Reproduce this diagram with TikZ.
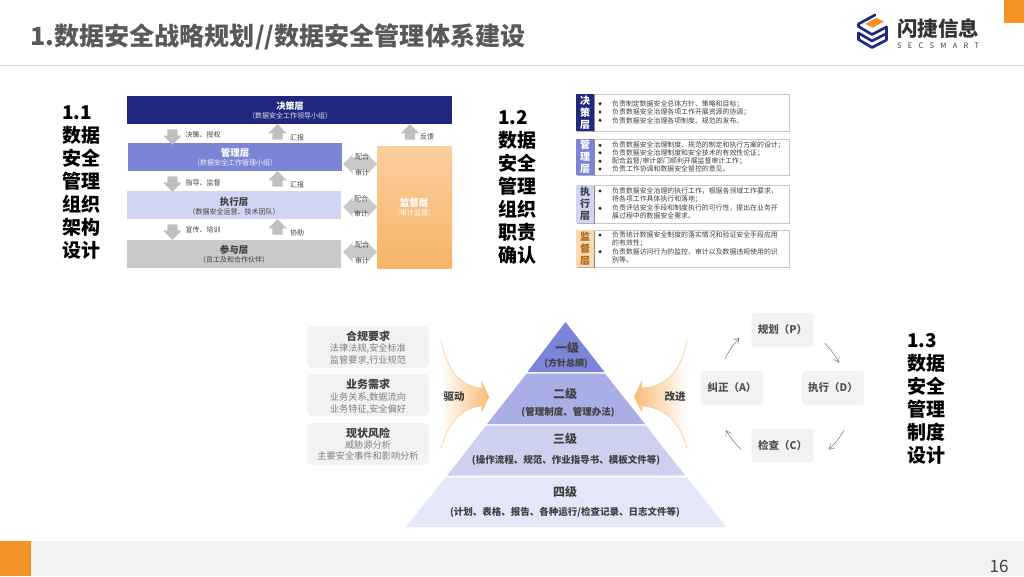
\documentclass[tikz,border=0pt]{standalone}
\usepackage{fontspec}
\setmainfont{Noto Sans CJK SC}
\usetikzlibrary{shapes.arrows,shadows,calc,arrows.meta}
\definecolor{navy}{HTML}{23287F}
\definecolor{midblue}{HTML}{7B84D6}
\definecolor{paleblue}{HTML}{D0D5F3}
\definecolor{laygray}{HTML}{C9C9C9}
\definecolor{arrgray}{HTML}{BFBFBF}
\definecolor{darktxt}{HTML}{404040}
\definecolor{softtxt}{HTML}{7F7F7F}
\definecolor{boxgray}{HTML}{F2F2F2}
\definecolor{brand}{HTML}{F39325}
\definecolor{fadeo}{HTML}{FBCF9E}
\definecolor{fadeoo}{HTML}{F6962F}
\definecolor{edgeo}{HTML}{F6CFA3}
\pgfdeclarehorizontalshading{fadeR}{100bp}{color(0bp)=(white);color(25bp)=(white);color(60bp)=(fadeo);color(100bp)=(fadeoo)}
\newcommand{\fs}[1]{\fontsize{#1}{#1}\selectfont}
\newcommand{\sq}[1]{\hbox to #1pt{\vrule height #1pt width 0pt\hfil}}
\tikzset{
  layerbox/.style={minimum width=214pt,minimum height=28pt,inner sep=0pt,align=center},
  upa/.style={single arrow,draw=none,fill=arrgray,shape border rotate=90,minimum height=15pt,single arrow head extend=4pt,inner sep=0pt,anchor=center},
  dna/.style={upa,shape border rotate=270},
  dbl/.style={double arrow,draw=none,fill=laygray,minimum height=34pt,double arrow head extend=3.5pt,inner sep=0pt},
  flow/.style={font=\fs{7},text=darktxt,inner sep=0pt},
  heading/.style={anchor=north west,align=left,inner sep=0pt,text=black,font=\fontsize{19}{23}\selectfont\bfseries},
  respbox/.style={draw=black!22,fill=white,line width=.7pt,minimum width=195pt,inner sep=0pt,drop shadow={shadow xshift=.8pt,shadow yshift=-.8pt,opacity=.25,fill=black}},
  resptab/.style={minimum width=18pt,inner sep=0pt,align=center,font=\fontsize{10}{12}\selectfont\bfseries,drop shadow={shadow xshift=.8pt,shadow yshift=-.8pt,opacity=.3,fill=black}},
  resptxt/.style={anchor=north west,inner sep=0pt,text=darktxt,font=\fontsize{6.9}{8.3}\selectfont},
  softbox/.style={fill=boxgray,rounded corners=5pt,inner sep=0pt,minimum width=122pt,minimum height=42pt},
  pdca/.style={fill=boxgray,rounded corners=3pt,inner sep=0pt,minimum width=62pt,minimum height=34pt,text=darktxt!90,font=\fs{10.5}\bfseries},
  cyc/.style={-{Straight Barb[length=5pt,width=6pt]},draw=black!55,line width=.5pt},
  pyrt/.style={inner sep=0pt,text=darktxt,font=\fs{12}\bfseries},
  pyrs/.style={inner sep=0pt,text=darktxt,font=\fs{9.5}\bfseries},
  edgeline/.style={draw=edgeo,line width=.7pt},
  logoline/.style={navy,line width=2.7pt,line join=round,line cap=round}
}
\begin{document}
\begin{tikzpicture}[x=1pt,y=-1pt]
\useasboundingbox (0,0) rectangle (1024,576);
% header & footer
\fill[brand] (1004,0) rectangle (1024,23);
\draw[black!15,line width=.8pt] (0,65) -- (1024,65);
\fill[boxgray] (0,541) rectangle (1024,576);
\fill[brand] (0,541) rectangle (31,576);
\node[anchor=west,inner sep=0pt,text=black!65,font=\fs{25.1}\bfseries] (title) at (30,37) {1.数据安全战略规划//数据安全管理体系建设};
\node[inner sep=0pt,text=darktxt,font=\fs{17}] (pageno) at (999,566) {16};
% logo
\fill[brand] (865,24) -- (876,18) -- (884,21.5) -- (873,27.5) -- cycle;
\draw[logoline] (875,15) -- (858.5,24) -- (858.5,26.5) -- (872,34.5) -- (886.5,27);
\draw[logoline] (858.5,33) -- (872,41) -- (886.5,33.5) -- (886.5,27);
\draw[logoline] (858.5,33) -- (858.5,39.5) -- (872,47.5) -- (886.5,40) -- (886.5,33.5);
\node[anchor=west,inner sep=0pt,text=black!80,font=\fs{20.5}\bfseries] (logotxt) at (897,29) {闪捷信息};
\node[anchor=west,inner sep=0pt,text=darktxt,font=\fs{7.5}] (logosub) at (897,46) {\makebox[82pt][s]{S\hfil E\hfil C\hfil S\hfil M\hfil A\hfil R\hfil T}};
% headings
\node[heading] (h1) at (62,106) {1.1\\数据\\安全\\管理\\组织\\架构\\设计};
\node[heading] (h2) at (498,110.5) {1.2\\数据\\安全\\管理\\组织\\职责\\确认};
\node[heading] (h3) at (907,333.5) {1.3\\数据\\安全\\管理\\制度\\设计};
% 1.1 layers
\node[layerbox,fill=navy,minimum width=325pt,text=white] (l1) at (289.5,110.3) {};
\node[layerbox,fill=midblue] (l2) at (235,157) {};
\node[layerbox,fill=paleblue] (l3) at (234,205) {};
\node[layerbox,fill=laygray] (l4) at (234,254) {};
\node[inner sep=0pt,minimum width=75pt,minimum height=122pt,top color=fadeo,bottom color=brand!70,shading angle=0] (l5) at (414.5,207) {};
\node[inner sep=0pt,text=white,font=\fs{9}\bfseries] (l1a) at (290,106) {决策层};
\node[inner sep=0pt,text=white!85!navy,font=\fs{7}] (l1b) at (290,116) {（数据安全工作领导小组）};
\node[inner sep=0pt,text=white,font=\fs{9.5}\bfseries] (l2a) at (235,153) {管理层};
\node[inner sep=0pt,text=white!90!midblue,font=\fs{7}] (l2b) at (235,163) {（数据安全工作管理小组）};
\node[inner sep=0pt,text=darktxt,font=\fs{9.5}\bfseries] (l3a) at (234,202) {执行层};
\node[inner sep=0pt,text=darktxt,font=\fs{7}] (l3b) at (234,212) {（数据安全运营、技术团队）};
\node[inner sep=0pt,text=darktxt,font=\fs{9.5}\bfseries] (l4a) at (234,250) {参与层};
\node[inner sep=0pt,text=darktxt,font=\fs{7}] (l4b) at (234,260) {（员工及和合作伙伴）};
\node[inner sep=0pt,text=white,font=\fs{9.5}\bfseries] (l5a) at (414,203) {监督层};
\node[inner sep=0pt,text=white,font=\fs{7}] (l5b) at (414,213) {（审计监督）};
% 1.1 block arrows
\node[dna] (d1) at (172.5,134.5) {\sq{10}}; \node[upa] (u1) at (277.5,134.5) {\sq{10}}; \node[upa] (u0) at (410,134.5) {\sq{10}};
\node[dna] (d2) at (172.5,181.5) {\sq{10}}; \node[upa] (u2) at (277.5,181.5) {\sq{10}};
\node[dna] (d3) at (172.5,229.5) {\sq{10}}; \node[upa] (u3) at (277.5,229.5) {\sq{10}};
\node[dbl] (x1) at (360,164) {\sq{12}}; \node[dbl] (x2) at (360,207) {\sq{12}}; \node[dbl] (x3) at (360,252) {\sq{12}};
\node[flow] (t1) at (203,135) {决策、授权};
\node[flow] (t2) at (297,138) {汇报};
\node[flow] (t3) at (427,137) {反馈};
\node[flow] (t4) at (203,183) {指导、监督};
\node[flow] (t5) at (297,185) {汇报};
\node[flow] (t6) at (203,230) {宣传、培训};
\node[flow] (t7) at (297,233) {协助};
\node[flow] (c1) at (362,157) {配合}; \node[flow] (a1) at (362,173) {审计};
\node[flow] (c2) at (361,199) {配合}; \node[flow] (a2) at (361,214) {审计};
\node[flow] (c3) at (362,245) {配合}; \node[flow] (a3) at (362,261) {审计};
% 1.2 boxes
\node[respbox,minimum height=37pt] (b1) at (691.5,112.5) {};
\node[respbox,minimum height=36pt] (b2) at (691.5,157) {};
\node[respbox,minimum height=38pt] (b3) at (691.5,204) {};
\node[respbox,minimum height=37pt] (b4) at (691.5,248.5) {};
\node[resptab,fill=navy,text=white,minimum height=37pt] (tb1) at (585,112.5) {决\\策\\层};
\node[resptab,fill=midblue,text=white,minimum height=36pt] (tb2) at (585,157) {管\\理\\层};
\node[resptab,fill=paleblue,text=darktxt,minimum height=38pt] (tb3) at (585,204) {执\\行\\层};
\node[resptab,fill=brand!35,text=brand!70!black,minimum height=37pt] (tb4) at (585,248.5) {监\\督\\层};
\node[resptxt,align=left] (tx1) at (612,100.5) {负责制定数据安全总体方针、策略和目标；\\负责数据安全治理各项工作开展资源的协调；\\负责数据安全治理各项制度、规范的发布。};
\node[resptxt,align=left] (tx2) at (612,141) {负责数据安全治理制度、规范的制定和执行方案的设计；\\负责数据安全治理制度和安全技术的有效性论证；\\配合监督/审计部门顺利开展监督审计工作；\\负责工作协调和数据安全管控的意见。};
\node[resptxt,align=left] (tx3) at (612,187.5) {负责数据安全治理的执行工作，根据各领域工作要求，\\将各项工作具体执行和落地；\\负责评估安全手段和制度执行的可行性，提出在业务开\\展过程中的数据安全需求。};
\node[resptxt,align=left] (tx4) at (612,231.5) {负责统计数据安全制度的落实情况和验证安全手段应用\\的有效性；\\负责数据访问行为的监控、审计以及数据违规使用的识\\别等。};
\foreach \by in {103.7,112,120.3,145.3,152.8,161.3,169,191,208.3,235,251.7}
  \fill[black!85] (600,\by) circle[radius=1.7pt];
% 1.3 requirements
\node[softbox] (r1) at (368,347) {};
\node[softbox] (r2) at (368,395) {};
\node[softbox] (r3) at (368,444) {};
\node[inner sep=0pt,text=darktxt,font=\fs{11}\bfseries] (r1a) at (368,336) {合规要求};
\node[inner sep=0pt,text=softtxt,font=\fontsize{9.2}{11.2}\selectfont,align=center] (r1b) at (368,354.5) {法律法规,安全标准\\监管要求,行业规范};
\node[inner sep=0pt,text=darktxt,font=\fs{11}\bfseries] (r2a) at (368,384.5) {业务需求};
\node[inner sep=0pt,text=softtxt,font=\fontsize{9.2}{11.2}\selectfont,align=center] (r2b) at (368,403.5) {业务关系,数据流向\\业务特征,安全偏好};
\node[inner sep=0pt,text=darktxt,font=\fs{11}\bfseries] (r3a) at (368,433) {现状风险};
\node[inner sep=0pt,text=softtxt,font=\fontsize{9.2}{11.2}\selectfont,align=center] (r3b) at (368,450.5) {威胁源分析\\主要安全事件和影响分析};
% pyramid
\fill[midblue] (565.5,322) -- (604.5,372) -- (527.5,372) -- cycle;
\fill[midblue!65!white] (526.5,373.7) -- (605,373.7) -- (645,424) -- (487,424) -- cycle;
\fill[midblue!38!white] (486,425.7) -- (646,425.7) -- (685.5,475.7) -- (447,475.7) -- cycle;
\fill[midblue!20!white] (445.5,477.3) -- (687,477.3) -- (726,527) -- (406,527) -- cycle;
\node[pyrt] (p1a) at (567,348) {一级};
\node[pyrs,font=\fs{9}\bfseries] (p1b) at (566,363) {(方针总纲)};
\node[pyrt] (p2a) at (565,394) {二级};
\node[pyrs] (p2b) at (568,412) {(管理制度、管理办法)};
\node[pyrt] (p3a) at (565,439) {三级};
\node[pyrs] (p3b) at (566,460) {(操作流程、规范、作业指导书、模板文件等)};
\node[pyrt] (p4a) at (565,492) {四级};
\node[pyrs] (p4b) at (565,512) {(计划、表格、报告、各种运行/检查记录、日志文件等)};
% big gradient arrows
\shade[shading=fadeR] (441,340) .. controls (447,368) and (458,386) .. (481.7,388) -- (481.7,380) -- (489,397) -- (481.7,413) -- (481.7,406) .. controls (458,408) and (447,428) .. (441,448) -- cycle;
\draw[edgeline] (441,340) .. controls (447,368) and (458,386) .. (481.7,388);
\draw[edgeline] (441,448) .. controls (447,428) and (458,408) .. (481.7,406);
\shade[shading=fadeR,shading angle=180] (687,340) .. controls (681,368) and (670,386) .. (642,388) -- (642,380) -- (634,397) -- (642,413) -- (642,406) .. controls (670,408) and (681,428) .. (687,448) -- cycle;
\draw[edgeline] (687,340) .. controls (681,368) and (670,386) .. (642,388);
\draw[edgeline] (687,448) .. controls (681,428) and (670,408) .. (642,406);
\node[inner sep=0pt,text=darktxt,font=\fs{10.5}\bfseries] (drv) at (454,397) {驱动};
\node[inner sep=0pt,text=darktxt,font=\fs{10.5}\bfseries] (imp) at (675,397) {改进};
% PDCA
\node[pdca] (pp) at (782.5,330) {规划（P）};
\node[pdca] (pd) at (833,388) {执行（D）};
\node[pdca] (pa) at (732,388) {纠正（A）};
\node[pdca] (pc) at (782.5,445.5) {检查（C）};
\draw[cyc] ([shift={(11,-4)}]pp.south east) to[bend left=8] ([shift={(6,-8)}]pd.north);
\draw[cyc] ([shift={(11,25)}]pd.south) to[bend left=8] ([shift={(15,4)}]pc.east);
\draw[cyc] ([shift={(-10,4)}]pc.west) to[bend left=8] ([shift={(-6,25)}]pa.south);
\draw[cyc] ([shift={(-7,-12)}]pa.north) to[bend left=8] ([shift={(-12,8)}]pp.west);
\end{tikzpicture}
\end{document}
